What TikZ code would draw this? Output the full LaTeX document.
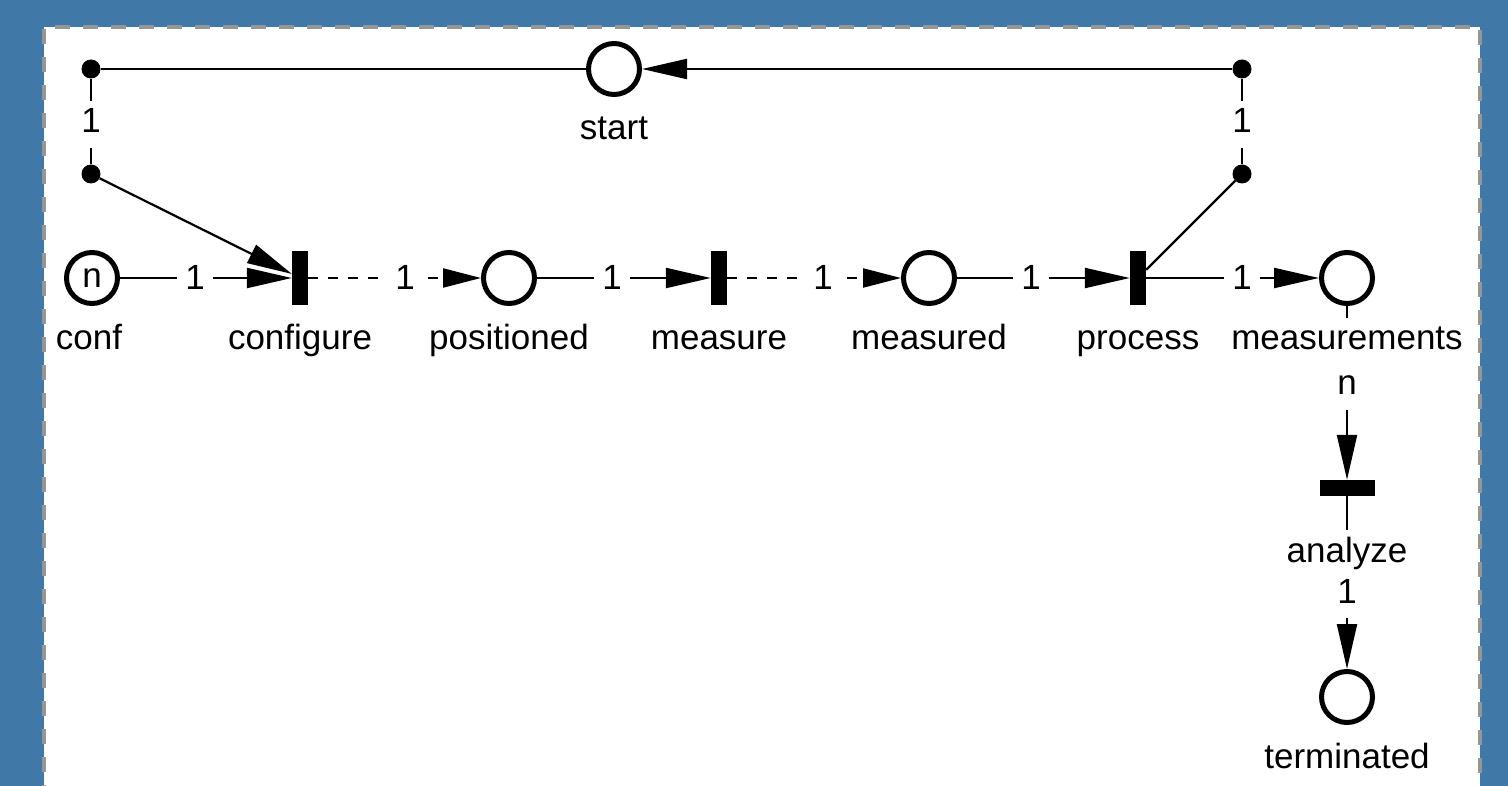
\documentclass[tikz,border=0pt]{standalone}
\usepackage{fontspec}
\setmainfont{Liberation Sans}
\usetikzlibrary{arrows.meta}
\definecolor{bgblue}{RGB}{64,121,168}
\definecolor{bordergray}{RGB}{150,150,150}
\begin{document}
\begin{tikzpicture}[x=1pt,y=-1pt,
  font=\fontsize{35}{40}\selectfont,
  place/.style={circle,draw,line width=5pt,minimum size=51pt,inner sep=0pt,fill=white},
  trans/.style={rectangle,fill=black,inner sep=0pt,minimum width=16pt,minimum height=54pt},
  htrans/.style={rectangle,fill=black,inner sep=0pt,minimum width=55pt,minimum height=16pt},
  dot/.style={circle,fill=black,inner sep=0pt,minimum size=19pt},
  arc/.style={line width=2.2pt},
  arr/.style={arc,-{Triangle[length=45pt,width=20pt]}},
  darr/.style={arc,dash pattern=on 10pt off 10pt,-{Triangle[length=38pt,width=19pt]}},
  lbl/.style={fill=white,inner xsep=8pt,inner ysep=3pt,text height=29pt,text depth=12pt,anchor=base},
]
\useasboundingbox (0,0) rectangle (1508,786);
\fill[bgblue] (0,0) rectangle (1508,786);
\fill[white] (44,27) rectangle (1480,790);
\draw[bordergray,line width=4pt,dash pattern=on 15pt off 13pt] (44,800) -- (44,27) -- (1480,27) -- (1480,800);

% places, transitions, bend points
\node[dot] (ltop) at (91,69) {};
\node[dot] (lbot) at (91,174) {};
\node[dot] (rtop) at (1242,69) {};
\node[dot] (rbot) at (1242,174) {};
\node[place] (start) at (614,69) {};
\node[place] (conf) at (92,278) {n};
\node[trans] (configure) at (300,278) {};
\node[place] (positioned) at (509,278) {};
\node[trans] (measure) at (719,278) {};
\node[place] (measured) at (929,278) {};
\node[trans] (process) at (1138,278) {};
\node[place] (measurements) at (1347,278) {};
\node[htrans] (analyze) at (1347,488) {};
\node[place] (terminated) at (1347,697) {};

% arcs
\draw[arc] (start) -- (ltop);
\draw[arc] (ltop) -- (lbot);
\draw[arr] (lbot) -- (configure);
\draw[arr] (conf) -- (configure);
\draw[darr] (configure) -- (positioned);
\draw[arr] (positioned) -- (measure);
\draw[darr] (measure) -- (measured);
\draw[arr] (measured) -- (process);
\draw[arr] (process) -- (measurements);
\draw[arc] (process) -- (rbot);
\draw[arc] (rbot) -- (rtop);
\draw[arr] (rtop) -- (start);
\draw[arr] (measurements) -- (analyze);
\draw[arr] (analyze) -- (terminated);

% inscriptions
\node[lbl] (w1) at (91,133) {1};
\node[lbl] (w2) at (1242,133) {1};
\node[lbl] (w3) at (195,290) {1};
\node[lbl] (w4) at (405,290) {1};
\node[lbl] (w5) at (612,290) {1};
\node[lbl] (w6) at (823,290) {1};
\node[lbl] (w7) at (1031,290) {1};
\node[lbl] (w8) at (1242,290) {1};
\node[lbl] (w9) at (1347,395) {n};
\node[lbl] (w10) at (1347,603) {1};

% place and transition names
\node[lbl] (lstart) at (614,140) {start};
\node[lbl] (lconf) at (89,350) {conf};
\node[lbl] (lconfigure) at (300,350) {configure};
\node[lbl] (lpositioned) at (509,350) {positioned};
\node[lbl] (lmeasure) at (719,350) {measure};
\node[lbl] (lmeasured) at (929,350) {measured};
\node[lbl] (lprocess) at (1138,350) {process};
\node[lbl] (lmeasurements) at (1347,350) {measurements};
\node[lbl] (lanalyze) at (1347,562) {analyze};
\node[lbl] (lterminated) at (1347,768) {terminated};
\end{tikzpicture}
\end{document}
